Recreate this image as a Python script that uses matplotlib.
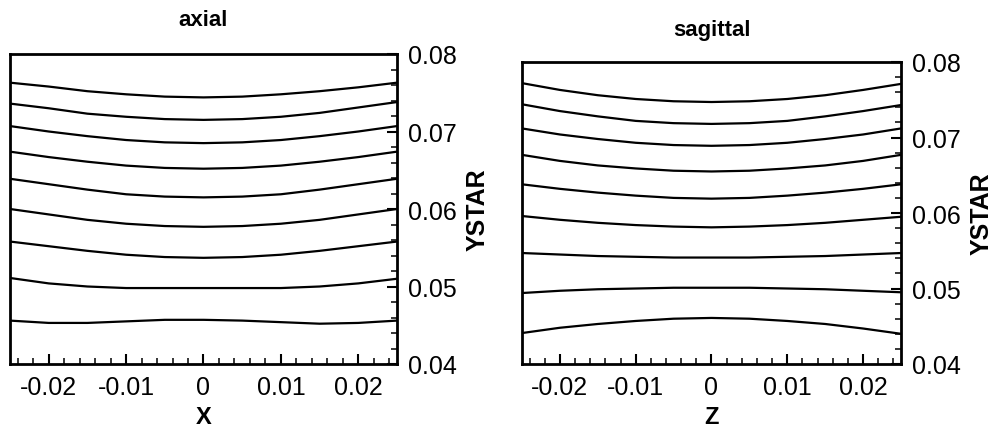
import matplotlib
matplotlib.use("Agg")
import matplotlib.pyplot as plt
from matplotlib.ticker import MultipleLocator

plt.rcParams['font.family'] = ['Liberation Sans', 'DejaVu Sans']

# positions along the horizontal coordinate
pos = [-0.025, -0.02, -0.015, -0.01, -0.005, 0.0, 0.005, 0.01, 0.015, 0.02, 0.025]

# axial view contour lines (YSTAR vs X)
axial_1 = [0.0763, 0.0758, 0.0752, 0.0748, 0.0745, 0.0744, 0.0745, 0.0748, 0.0752, 0.0757, 0.0763]
axial_2 = [0.0736, 0.0730, 0.0723, 0.0719, 0.0716, 0.0715, 0.0716, 0.0719, 0.0724, 0.0731, 0.0738]
axial_3 = [0.0707, 0.0700, 0.0694, 0.0689, 0.0686, 0.0685, 0.0686, 0.0689, 0.0694, 0.0700, 0.0707]
axial_4 = [0.0674, 0.0667, 0.0661, 0.0656, 0.0653, 0.0652, 0.0653, 0.0656, 0.0661, 0.0667, 0.0674]
axial_5 = [0.0639, 0.0632, 0.0625, 0.0619, 0.0616, 0.0615, 0.0616, 0.0619, 0.0625, 0.0632, 0.0639]
axial_6 = [0.0600, 0.0593, 0.0586, 0.0581, 0.0578, 0.0577, 0.0578, 0.0581, 0.0586, 0.0593, 0.0600]
axial_7 = [0.0558, 0.0552, 0.0546, 0.0541, 0.0538, 0.0537, 0.0538, 0.0541, 0.0546, 0.0552, 0.0558]
axial_8 = [0.0511, 0.0504, 0.0500, 0.0498, 0.0498, 0.0498, 0.0498, 0.0498, 0.0500, 0.0504, 0.0510]
axial_9 = [0.0456, 0.0453, 0.0453, 0.0455, 0.0457, 0.0457, 0.0456, 0.0454, 0.0452, 0.0453, 0.0456]

# sagittal view contour lines (YSTAR vs Z)
sag_1 = [0.0772, 0.0763, 0.0756, 0.0751, 0.0748, 0.0747, 0.0748, 0.0751, 0.0756, 0.0763, 0.0771]
sag_2 = [0.0744, 0.0735, 0.0728, 0.0722, 0.0719, 0.0718, 0.0719, 0.0722, 0.0728, 0.0735, 0.0743]
sag_3 = [0.0712, 0.0704, 0.0698, 0.0693, 0.0690, 0.0689, 0.0690, 0.0693, 0.0698, 0.0704, 0.0712]
sag_4 = [0.0677, 0.0669, 0.0663, 0.0659, 0.0656, 0.0655, 0.0656, 0.0659, 0.0663, 0.0669, 0.0677]
sag_5 = [0.0638, 0.0632, 0.0627, 0.0623, 0.0620, 0.0619, 0.0620, 0.0623, 0.0627, 0.0632, 0.0638]
sag_6 = [0.0596, 0.0591, 0.0587, 0.0584, 0.0582, 0.0581, 0.0582, 0.0584, 0.0587, 0.0591, 0.0595]
sag_7 = [0.0547, 0.0545, 0.0543, 0.0542, 0.0541, 0.0541, 0.0541, 0.0542, 0.0543, 0.0545, 0.0547]
sag_8 = [0.0494, 0.0497, 0.0499, 0.0500, 0.0501, 0.0501, 0.0501, 0.0500, 0.0499, 0.0497, 0.0495]
sag_9 = [0.0441, 0.0448, 0.0453, 0.0457, 0.0460, 0.0461, 0.0460, 0.0457, 0.0453, 0.0447, 0.0440]

axial_lines = [axial_1, axial_2, axial_3, axial_4, axial_5, axial_6, axial_7, axial_8, axial_9]
sag_lines = [sag_1, sag_2, sag_3, sag_4, sag_5, sag_6, sag_7, sag_8, sag_9]

x_ticks = [-0.02, -0.01, 0, 0.01, 0.02]
x_ticklabels = ['-0.02', '-0.01', '0', '0.01', '0.02']
y_ticks = [0.04, 0.05, 0.06, 0.07, 0.08]
y_ticklabels = ['0.04', '0.05', '0.06', '0.07', '0.08']

W, H = 995, 435
fig = plt.figure(figsize=(W / 100, H / 100), dpi=100)


def frac(x0, y0, x1, y1):
    return [x0 / W, 1 - y1 / H, (x1 - x0) / W, (y1 - y0) / H]


ax1 = fig.add_axes(frac(10, 55, 397, 365))
ax2 = fig.add_axes(frac(522, 63, 901, 365))

for ax, lines, xl, title, ty in [(ax1, axial_lines, 'X', 'axial', 26),
                                  (ax2, sag_lines, 'Z', 'sagittal', 36)]:
    for ln in lines:
        ax.plot(pos, ln, color='black', lw=1.6, solid_joinstyle='round')
    ax.set_xlim(-0.025, 0.025)
    ax.set_ylim(0.04, 0.08)
    ax.set_xticks(x_ticks)
    ax.set_xticklabels(x_ticklabels)
    ax.set_yticks(y_ticks)
    ax.set_yticklabels(y_ticklabels)
    ax.xaxis.set_minor_locator(MultipleLocator(0.002))
    ax.yaxis.set_minor_locator(MultipleLocator(0.002))
    ax.yaxis.tick_right()
    ax.yaxis.set_label_position('right')
    ax.tick_params(axis='both', which='major', direction='in', length=7, width=1.5,
                   labelsize=18, pad=8)
    ax.tick_params(axis='both', which='minor', direction='in', length=4, width=1.1)
    ax.tick_params(axis='x', which='both', top=False, bottom=True)
    ax.tick_params(axis='y', which='both', left=False, right=True)
    for s in ax.spines.values():
        s.set_linewidth(2.0)
    ax.set_xlabel(xl, fontsize=17, fontweight='bold', labelpad=4)
    ax.set_ylabel('YSTAR', fontsize=18, fontweight='bold', labelpad=6)
    bb = ax.get_position()
    fig.text(bb.x0 + bb.width / 2, 1 - ty / H, title, ha='center', va='baseline',
             fontsize=16, fontweight='bold')

fig.savefig('out.png', dpi=100)
